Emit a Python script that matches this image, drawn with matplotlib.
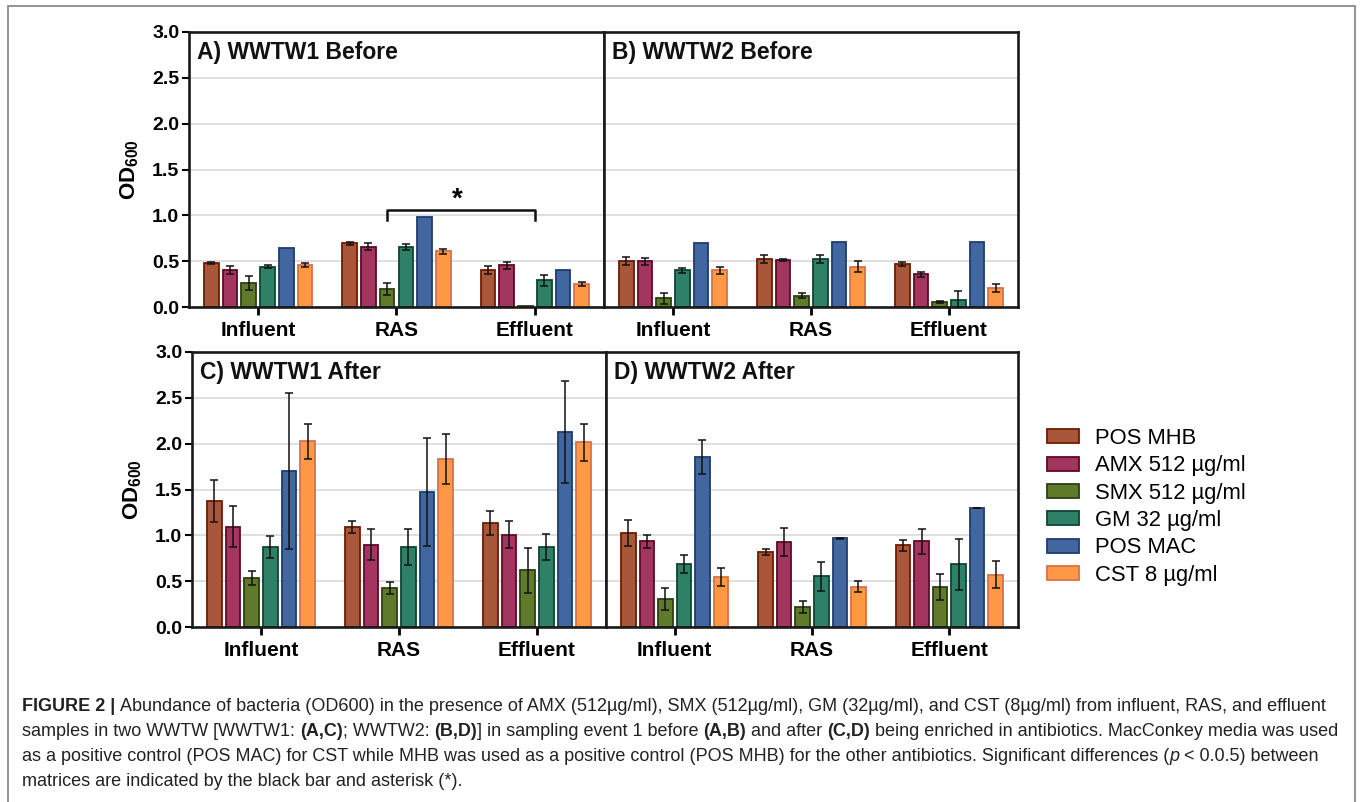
import numpy as np
import matplotlib
matplotlib.use('Agg')
import matplotlib.pyplot as plt
from matplotlib.transforms import IdentityTransform
from matplotlib.patches import Rectangle

plt.rcParams['font.family'] = ['Liberation Sans', 'DejaVu Sans']
plt.rcParams['mathtext.fontset'] = 'custom'
plt.rcParams['mathtext.rm'] = 'Liberation Sans'
plt.rcParams['mathtext.bf'] = 'Liberation Sans:bold'

# categories / series
groups = ['Influent', 'RAS', 'Effluent']
series = ['POS MHB', 'AMX 512 µg/ml', 'SMX 512 µg/ml', 'GM 32 µg/ml', 'POS MAC', 'CST 8 µg/ml']
face_cols = ['#a9573b', '#a3365e', '#5f7a2b', '#2e8166', '#4267a0', '#ff9845']
edge_cols = ['#6e1c00', '#5e0a2b', '#2c4011', '#0e4533', '#1f3c6e', '#d9714a']

# mean OD600, rows = Influent, RAS, Effluent; cols = series
wwtw1_before = [[0.48, 0.40, 0.265, 0.44, 0.64, 0.458],
                [0.695, 0.66, 0.196, 0.655, 0.98, 0.607],
                [0.40, 0.455, 0.015, 0.29, 0.40, 0.25]]
wwtw1_before_err = [[0.006, 0.045, 0.075, 0.015, 0, 0.025],
                    [0.015, 0.04, 0.07, 0.035, 0, 0.03],
                    [0.045, 0.04, 0.0, 0.06, 0, 0.025]]
wwtw2_before = [[0.50, 0.50, 0.098, 0.40, 0.70, 0.40],
                [0.524, 0.516, 0.124, 0.524, 0.713, 0.44],
                [0.47, 0.356, 0.055, 0.08, 0.713, 0.207]]
wwtw2_before_err = [[0.045, 0.04, 0.06, 0.03, 0, 0.04],
                    [0.047, 0.01, 0.03, 0.045, 0, 0.058],
                    [0.02, 0.03, 0.015, 0.09, 0, 0.047]]
wwtw1_after = [[1.378, 1.095, 0.538, 0.873, 1.70, 2.025],
               [1.09, 0.90, 0.425, 0.876, 1.47, 1.833],
               [1.138, 1.007, 0.62, 0.873, 2.124, 2.015]]
wwtw1_after_err = [[0.23, 0.225, 0.075, 0.125, 0.85, 0.195],
                   [0.065, 0.165, 0.07, 0.195, 0.59, 0.275],
                   [0.13, 0.15, 0.245, 0.147, 0.555, 0.205]]
wwtw2_after = [[1.025, 0.935, 0.305, 0.69, 1.855, 0.545],
               [0.818, 0.93, 0.218, 0.553, 0.967, 0.44],
               [0.89, 0.935, 0.44, 0.687, 1.298, 0.571]]
wwtw2_after_err = [[0.144, 0.07, 0.118, 0.1, 0.187, 0.096],
                   [0.033, 0.153, 0.067, 0.156, 0.005, 0.06],
                   [0.056, 0.135, 0.14, 0.278, 0.005, 0.15]]

titles = ['A) WWTW1 Before', 'B) WWTW2 Before', 'C) WWTW1 After', 'D) WWTW2 After']

W, H = 1360, 802
fig = plt.figure(figsize=(W / 100, H / 100), dpi=100)

def px_axes(l, t, r, b):
    return fig.add_axes([l / W, 1 - b / H, (r - l) / W, (b - t) / H])

axA = px_axes(189, 32, 604, 307)
axB = px_axes(604, 32, 1018, 307)
axC = px_axes(192, 352, 606, 627)
axD = px_axes(606, 352, 1018, 627)

panels = [(axA, wwtw1_before, wwtw1_before_err),
          (axB, wwtw2_before, wwtw2_before_err),
          (axC, wwtw1_after, wwtw1_after_err),
          (axD, wwtw2_after, wwtw2_after_err)]

xg = np.arange(len(groups))
step = 0.135
bw = 0.106
handles = []
for k, (ax, means, errs) in enumerate(panels):
    means = np.array(means)
    errs = np.array(errs)
    ax.set_axisbelow(True)
    ax.yaxis.grid(True, color='#d9d9d9', lw=1.2)
    for j in range(len(series)):
        xs = xg + (j - 2.5) * step
        b = ax.bar(xs, means[:, j], width=bw, color=face_cols[j],
                   edgecolor=edge_cols[j], linewidth=1.3, label=series[j], zorder=2)
        if k == 0:
            handles.append(b)
        m = errs[:, j] > 0
        if m.any():
            ax.errorbar(xs[m], means[m, j], yerr=errs[m, j], fmt='none',
                        ecolor='#111111', elinewidth=1.1, capsize=3, capthick=1.1, zorder=3)
    ax.set_xlim(-0.5, 2.5)
    ax.set_ylim(0, 3.0)
    ax.set_yticks(np.arange(0, 3.01, 0.5))
    ax.set_xticks(xg)
    ax.set_xticklabels(groups, fontsize=15, fontweight='bold')
    ax.tick_params(axis='x', direction='out', length=6, width=2, pad=4)
    for s in ax.spines.values():
        s.set_linewidth(1.9)
        s.set_color('#1a1a1a')
    ax.text(0.02, 0.925, titles[k], transform=ax.transAxes, fontsize=16.5,
            fontweight='bold', va='center', ha='left', color='#111111')
    if k in (0, 2):
        ax.tick_params(axis='y', direction='out', length=5, width=1.5, pad=2, labelsize=14)
        ax.set_yticklabels(['%.1f' % v for v in np.arange(0, 3.01, 0.5)], fontweight='bold')
        ax.set_ylabel(r'$\mathbf{OD_{600}}$', fontsize=16, labelpad=8)
    else:
        ax.tick_params(axis='y', length=0, labelleft=False)

# significance bracket in panel A
axA.plot([0.93, 0.93, 2.0, 2.0], [0.945, 1.06, 1.06, 0.945], color='#111111', lw=1.8, zorder=4)
axA.text(1.44, 1.17, '*', fontsize=20, fontweight='bold', ha='center', va='center')

fig.legend(handles=handles, labels=series, loc='upper left',
           bbox_to_anchor=(1047 / W, 1 - 428 / H), frameon=False, fontsize=15.8,
           handlelength=1.46, handleheight=0.6, handletextpad=0.72, labelspacing=0.29,
           borderaxespad=0, borderpad=0)

# outer frame
fig.patches.append(Rectangle((8, -20), 1347, H - 6 + 20, transform=IdentityTransform(),
                             fill=False, edgecolor='#8a8a8a', lw=1.3))

# caption
cap_lines = [
    [('FIGURE 2 |', 'bold', 'normal'),
     (' Abundance of bacteria (OD600) in the presence of AMX (512µg/ml), SMX (512µg/ml), GM (32µg/ml), and CST (8µg/ml) from influent, RAS, and effluent', 'normal', 'normal')],
    [('samples in two WWTW [WWTW1: ', 'normal', 'normal'), ('(A,C)', 'bold', 'normal'),
     ('; WWTW2: ', 'normal', 'normal'), ('(B,D)', 'bold', 'normal'),
     ('] in sampling event 1 before ', 'normal', 'normal'), ('(A,B)', 'bold', 'normal'),
     (' and after ', 'normal', 'normal'), ('(C,D)', 'bold', 'normal'),
     (' being enriched in antibiotics. MacConkey media was used', 'normal', 'normal')],
    [('as a positive control (POS MAC) for CST while MHB was used as a positive control (POS MHB) for the other antibiotics. Significant differences (', 'normal', 'normal'),
     ('p', 'normal', 'italic'), (' < 0.0.5) between', 'normal', 'normal')],
    [('matrices are indicated by the black bar and asterisk (*).', 'normal', 'normal')],
]
cap_base = [711, 736, 761, 786]
renderer = fig.canvas.get_renderer()

def draw_line(pieces, y, size, x0=22):
    x = x0
    made = []
    probe = fig.text(0, 0, 'n n', fontsize=size)
    probe2 = fig.text(0, 0, 'nn', fontsize=size)
    sp = probe.get_window_extent(renderer).width - probe2.get_window_extent(renderer).width
    probe.remove()
    probe2.remove()
    for text, wt, st in pieces:
        if text.startswith(' '):
            x += sp
        body = text.strip(' ')
        t = fig.text(x, H - y, body, fontsize=size, fontweight=wt, fontstyle=st,
                     color='#222222', va='baseline', ha='left', transform=IdentityTransform())
        made.append(t)
        x += t.get_window_extent(renderer).width
        if text.endswith(' '):
            x += sp
    return made, x

size = 10.0
made, xend = draw_line(cap_lines[0], cap_base[0], size)
for t in made:
    t.remove()
size = size * (1333 - 22) / (xend - 22)
for pieces, y in zip(cap_lines, cap_base):
    draw_line(pieces, y, size)

fig.savefig('out.png', dpi=100)
